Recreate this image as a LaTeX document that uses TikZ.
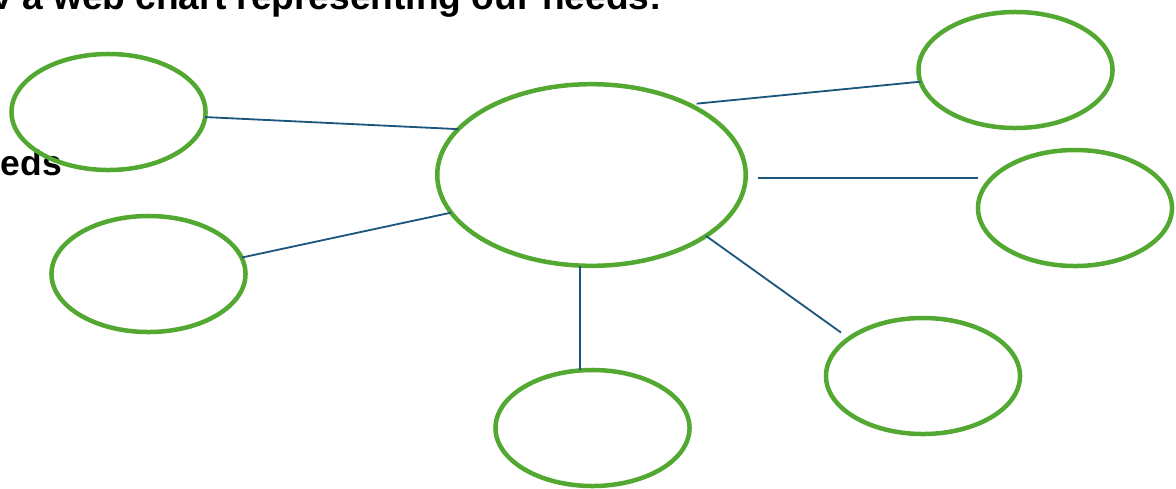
\documentclass[tikz,border=0pt]{standalone}
\usepackage{fontspec}
\setmainfont{Liberation Sans}
\usetikzlibrary{shapes.geometric}
\definecolor{needgreen}{RGB}{82,168,48}
\definecolor{linkblue}{RGB}{28,86,124}

\begin{document}
\begin{tikzpicture}[x=0.025cm, y=-0.025cm,
		bubble/.style={ellipse, draw=needgreen, line width=3.2pt, inner sep=0pt, outer sep=0pt, minimum width=4.85cm, minimum height=2.9cm},
		hubbubble/.style={bubble, minimum width=7.71cm, minimum height=4.54cm},
		link/.style={draw=linkblue, line width=1.3pt},
		heading/.style={font=\bfseries\fontsize{26.4}{30}\selectfont, inner sep=0pt, anchor=base east}]
			%%%%% START %%%%%
			\useasboundingbox (0, 0) rectangle (1176, 488);
			
			\node[heading] (title) at (662, 9.5) {v a web chart representing our needs:};
			\node[heading, font=\bfseries\fontsize{25.2}{30}\selectfont] (side) at (62, 175) {eds};
			
			\node[hubbubble] (hub) at (591.5, 175) {};
			
			\node[bubble] (tl) at (108.5, 112) {};
			\node[bubble] (ml) at (148.5, 274) {};
			\node[bubble] (bm) at (592.5, 428) {};
			\node[bubble] (br) at (923, 376) {};
			\node[bubble] (rt) at (1075, 208) {};
			\node[bubble] (tr) at (1015.5, 70) {};
			
			\draw[link] (tl.-3.5) -- (hub.161.8);
			\draw[link] (ml.10.3) -- (hub.195.7);
			\draw[link] (hub.263.3) -- (hub.263.3 |- bm.north);
			\draw[link, shorten >=0.25cm] (hub.-28.3) -- (br.153.7);
			\draw[link, shorten <=0.3cm] (hub.-1.7) -- (hub.-1.7 -| rt.west);
			\draw[link, shorten <=0.2cm] (hub.36) -- (tr.187.6);
			%%%%% END %%%%%
\end{tikzpicture}
\end{document}
